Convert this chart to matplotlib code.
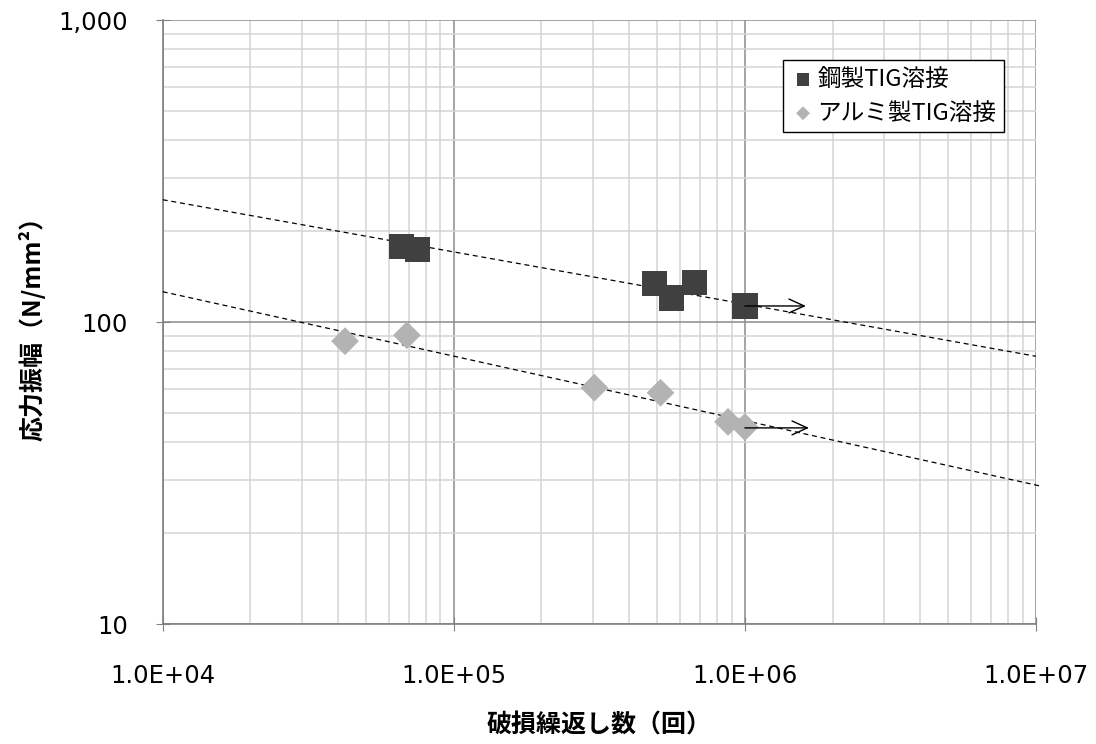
import matplotlib
matplotlib.use("Agg")
import matplotlib.pyplot as plt
import numpy as np
from matplotlib.ticker import FixedLocator, FixedFormatter, LogLocator, NullFormatter

plt.rcParams['font.family'] = ['DejaVu Sans', 'Noto Sans CJK JP']

# Data
steel_cycles = [6.6e4, 7.5e4, 4.9e5, 5.6e5, 6.7e5, 1.0e6]
steel_stress = [178, 174, 134, 120, 135, 113]
alu_cycles = [4.23e4, 6.9e4, 3.04e5, 5.13e5, 8.75e5, 1.0e6]
alu_stress = [86.4, 90.4, 60.6, 58.3, 46.7, 44.9]

# Fitted trend lines (endpoints)
steel_trend_x = [1e4, 1e7]
steel_trend_y = [254, 77]
alu_trend_x = [1e4, 1.04e7]
alu_trend_y = [126, 28.6]

# Runout arrows (start, end, level)
steel_arrow = (1.0e6, 1.62e6, 113)
alu_arrow = (1.0e6, 1.66e6, 44.6)

xticks = [1e4, 1e5, 1e6, 1e7]
xticklabels = ['1.0E+04', '1.0E+05', '1.0E+06', '1.0E+07']
yticks = [10, 100, 1000]
yticklabels = ['10', '100', '1,000']

fig = plt.figure(figsize=(10.96, 7.44), dpi=100)
ax = fig.add_axes([162.7/1096, 1-624/744, (1036-162.7)/1096, (624-20)/744])
ax.set_xscale('log')
ax.set_yscale('log')
ax.set_xlim(1e4, 1e7)
ax.set_ylim(10, 1000)

ax.xaxis.set_major_locator(FixedLocator(xticks))
ax.xaxis.set_major_formatter(FixedFormatter(xticklabels))
ax.yaxis.set_major_locator(FixedLocator(yticks))
ax.yaxis.set_major_formatter(FixedFormatter(yticklabels))
ax.xaxis.set_minor_locator(LogLocator(base=10, subs=np.arange(2, 10)))
ax.yaxis.set_minor_locator(LogLocator(base=10, subs=np.arange(2, 10)))
ax.xaxis.set_minor_formatter(NullFormatter())
ax.yaxis.set_minor_formatter(NullFormatter())

ax.grid(which='minor', color='#d4d4d4', linewidth=1.1, zorder=0)
ax.grid(which='major', color='#8c8c8c', linewidth=1.1, zorder=0)
ax.set_axisbelow(True)

for s in ['top', 'right']:
    ax.spines[s].set_visible(False)
for s in ['left', 'bottom']:
    ax.spines[s].set_color('#808080')
    ax.spines[s].set_linewidth(1.2)

ax.tick_params(which='major', direction='inout', length=10, color='#808080',
               labelsize=17.5, labelfontfamily='DejaVu Sans')
ax.tick_params(which='minor', length=0)
ax.tick_params(axis='x', pad=24)
ax.tick_params(axis='y', pad=20)

# Trend lines
ax.plot(steel_trend_x, steel_trend_y, linestyle=(0, (4, 3)), color='black',
        linewidth=0.9, clip_on=False, zorder=3)
ax.plot(alu_trend_x, alu_trend_y, linestyle=(0, (4, 3)), color='black',
        linewidth=0.9, clip_on=False, zorder=3)

# Data points
ax.scatter(steel_cycles, steel_stress, marker='s', s=330, color='#404040',
           edgecolors='none', label='鋼製TIG溶接', zorder=4)
ax.scatter(alu_cycles, alu_stress, marker='D', s=200, color='#b3b3b3',
           edgecolors='none', label='アルミ製TIG溶接', zorder=4)

# Runout arrows
for x0, x1, yv in [steel_arrow, alu_arrow]:
    ax.annotate('', xy=(x1, yv), xytext=(x0, yv),
                arrowprops=dict(arrowstyle='->,head_length=1.1,head_width=0.5',
                                color='black', lw=1.0, shrinkA=0, shrinkB=0),
                zorder=5)

ax.set_xlabel('破損繰返し数（回）', fontsize=18, fontweight='bold',
              family=['Noto Sans CJK JP', 'DejaVu Sans'], labelpad=18)
ax.set_ylabel('応力振幅（N/mm²）', fontsize=18, fontweight='bold',
              family=['Noto Sans CJK JP', 'DejaVu Sans'], labelpad=9)

leg = ax.legend(loc='upper right', bbox_to_anchor=(1004/1096, 1-60/744),
                bbox_transform=fig.transFigure, frameon=True, fancybox=False,
                edgecolor='black', framealpha=1,
                prop={'family': ['Noto Sans CJK JP', 'DejaVu Sans'], 'size': 17},
                handletextpad=0.1, borderpad=0.33, labelspacing=0.45,
                handlelength=1.0, markerscale=0.5, borderaxespad=0)
leg.get_frame().set_linewidth(1.0)

fig.savefig('out.png', dpi=100)
